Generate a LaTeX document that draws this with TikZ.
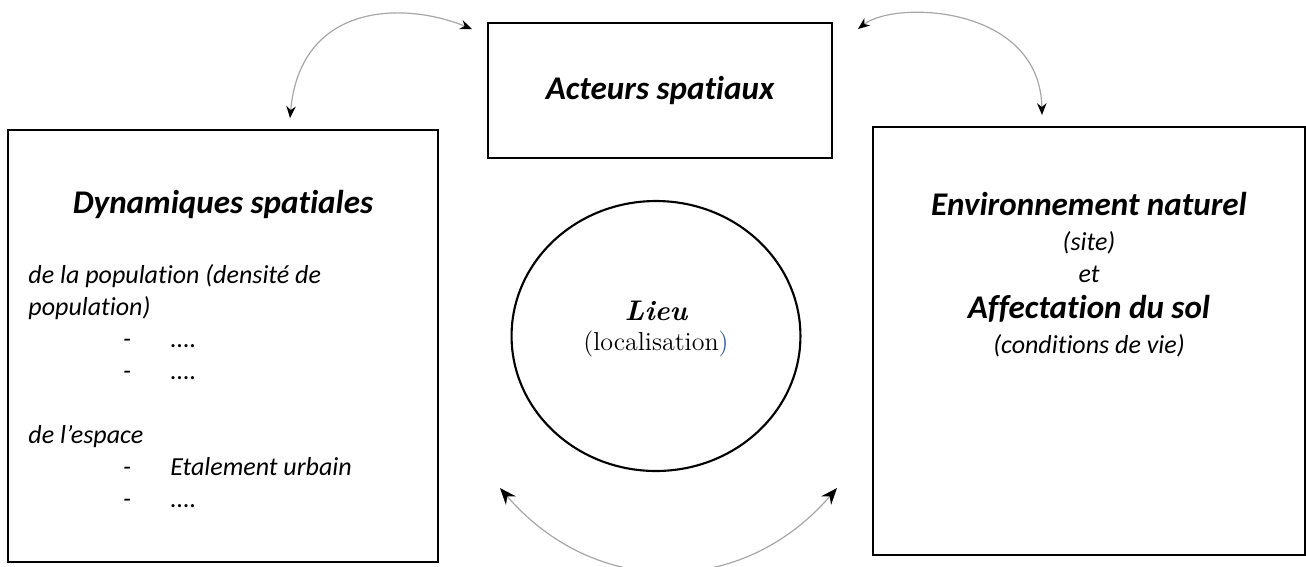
\documentclass[tikz,border=0pt]{standalone}
\usepackage{fontspec}
\usepackage{xcolor}
\usepackage{tikz}
\usetikzlibrary{shapes,shadows,arrows.meta,positioning,calc}
\newfontfamily\calibri[Ligatures=NoCommon]{Carlito}
\definecolor{bleulien}{RGB}{47,84,150}
\newcommand{\tiret}[1]{\makebox[60pt][l]{\hspace*{40pt}-}#1}

\begin{document}
\begin{tikzpicture}[x=0.423pt,y=-0.423pt,
  cadre/.style={draw,rectangle,line width=0.9pt,inner sep=0pt,fill=white},
  ombre/.style={drop shadow={shadow xshift=0.6pt,shadow yshift=-0.6pt,fill=black!55,opacity=1}},
  titre/.style={font=\calibri\bfseries\itshape\fontsize{14}{17}\selectfont},
  texte/.style={font=\calibri\itshape\fontsize{11}{13.5}\selectfont,inner sep=0pt},
  lien/.style={{Stealth[black,length=5pt,width=4pt]}-{Stealth[black,length=5pt,width=4pt]},draw=gray!70,line width=0.5pt},
  grandlien/.style={lien,{Stealth[black,length=7pt,width=5.5pt]}-{Stealth[black,length=7pt,width=5.5pt]}}]
\useasboundingbox (0,0) rectangle (1306,566);

% les trois cadres
\node[cadre,titre,minimum width=145.5pt,minimum height=57.1pt] (acteurs) at (660,90.5) {Acteurs spatiaux};
\node[cadre,ombre,minimum width=181.9pt,minimum height=182.7pt] (dyn) at (223,346) {};
\node[cadre,ombre,minimum width=182.7pt,minimum height=181pt] (env) at (1089,341) {};
\node[draw,ellipse,line width=0.9pt,minimum width=122.2pt,minimum height=114.2pt] (lieu) at (656,336) {};

% dynamiques
\node[titre,anchor=base] (dyntitre) at (223,213) {Dynamiques spatiales};
\node[texte,anchor=base west,align=left] (dyntexte) at (28,507) {de la population (densité de\\population)\\\tiret{....}\\\tiret{....}\\[13.5pt]de l’espace\\\tiret{Etalement urbain}\\\tiret{....}};

% environnement
\node[titre,anchor=base] (envtitre) at (1089,215) {Environnement naturel};
\node[texte,anchor=base] (envsite) at (1089,250) {(site)};
\node[texte,anchor=base] (envet) at (1089,282) {et};
\node[titre,anchor=base] (envsol) at (1089,318) {Affectation du sol};
\node[texte,anchor=base] (envcond) at (1089,353) {(conditions de vie)};

% lieu
\node[anchor=base,align=center,font=\fontsize{11}{12.3}\selectfont] (lieutxt) at (656,350) {{\bfseries\itshape\fontsize{12}{14}\selectfont Lieu}\\(localisation\textcolor{bleulien}{)}};

% fleches courbes
\coordinate (hg1) at (472,29);
\coordinate (hg2) at (290,118);
\coordinate (hd1) at (858,29);
\coordinate (hd2) at (1042,115);
\coordinate (bas1) at (500,488);
\coordinate (bas2) at (837,488);
\draw[lien] (hg1) .. controls (400,0) and (300,5) .. (hg2);
\draw[lien] (hd1) .. controls (895,0) and (1040,5) .. (hd2);
\draw[grandlien] (bas1) .. controls (595,598) and (742,598) .. (bas2);
\end{tikzpicture}
\end{document}
